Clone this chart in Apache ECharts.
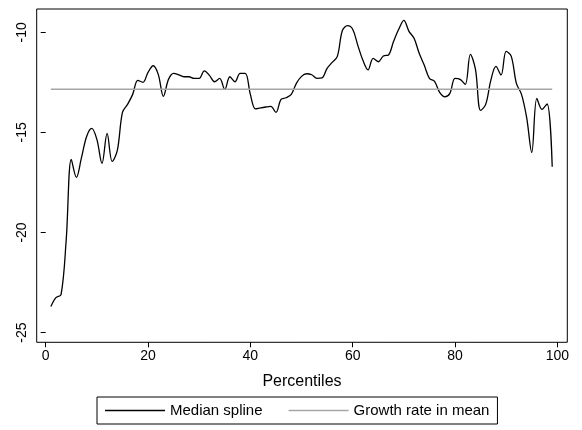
<!DOCTYPE html>
<html>
<head>
<meta charset="utf-8">
<script src="https://cdn.jsdelivr.net/npm/echarts@6/dist/echarts.min.js"></script>
<style>
  html, body { margin: 0; padding: 0; background: #fff; }
  #chart { width: 582px; height: 430px; }
</style>
</head>
<body>
<div id="chart"></div>
<script>
// percentiles 1..99
const percentiles = [];
for (let p = 1; p <= 99; p++) percentiles.push(p);

// median spline
const medianSpline = [
  -23.7, -23.25, -23.1, -20.4, -16.35, -17.25, -16.25, -15.2, -14.8, -15.35,
  -16.55, -15.05, -16.45, -15.9, -14.0, -13.6, -13.1, -12.4, -12.5, -12.0,
  -11.67, -12.1, -13.2, -12.35, -12.05, -12.12, -12.22, -12.22, -12.3, -12.3,
  -11.93, -12.15, -12.47, -12.3, -12.85, -12.22, -12.47, -12.05, -12.05, -13.1,
  -13.82, -13.77, -13.73, -13.7, -14.0, -13.35, -13.27, -13.1, -12.55, -12.2,
  -12.07, -12.12, -12.3, -12.28, -11.8, -11.5, -11.2, -9.9, -9.67, -9.85,
  -10.65, -11.4, -11.88, -11.3, -11.47, -11.18, -11.13, -10.45, -9.85, -9.4,
  -9.95, -10.3, -11.05, -11.65, -12.3, -12.45, -13.0, -13.22, -13.05, -12.3,
  -12.35, -12.6, -11.1, -11.85, -13.9, -13.6, -12.4, -11.7, -12.13, -10.95,
  -11.2, -12.55, -13.1, -14.25, -16.0, -13.3, -13.85, -13.58, -16.72
];

// growth rate in mean (flat)
const growthRateInMean = -12.85;
const growthStart = 1;
const growthEnd = 99;

const xTicks = [0, 20, 40, 60, 80, 100];
const yTicks = [-25, -20, -15, -10];

const chart = echarts.init(document.getElementById('chart'));

const font = 'Liberation Sans, Arial, sans-serif';

chart.setOption({
  animation: false,
  backgroundColor: '#fff',
  grid: {
    left: 36.7,
    right: 14.7,
    top: 9,
    bottom: 87.7,
    show: true,
    borderColor: '#000',
    borderWidth: 1,
    containLabel: false
  },
  legend: {
    left: 97,
    top: 397,
    orient: 'horizontal',
    borderColor: '#000',
    borderWidth: 1,
    padding: [5, 8, 5, 8],
    icon: 'rect',
    itemWidth: 60,
    itemHeight: 1.4,
    itemGap: 26,
    textStyle: { fontFamily: font, fontSize: 15, color: '#000', lineHeight: 17 },
    data: ['Median spline', 'Growth rate in mean']
  },
  xAxis: {
    type: 'value',
    min: -1.76,
    max: 101.95,
    name: 'Percentiles',
    nameLocation: 'middle',
    nameGap: 31,
    nameTextStyle: { fontFamily: font, fontSize: 16, color: '#000' },
    axisLine: { show: false },
    splitLine: { show: false },
    axisTick: {
      show: true,
      inside: false,
      length: 5,
      customValues: xTicks,
      lineStyle: { color: '#000' }
    },
    axisLabel: {
      customValues: xTicks,
      margin: 7,
      fontFamily: font,
      fontSize: 14,
      color: '#000'
    }
  },
  yAxis: {
    type: 'value',
    min: -25.485,
    max: -8.835,
    axisLine: { show: false },
    splitLine: { show: false },
    axisTick: {
      show: true,
      inside: false,
      length: 5,
      customValues: yTicks,
      lineStyle: { color: '#000' }
    },
    axisLabel: {
      customValues: yTicks,
      rotate: 90,
      margin: 8,
      fontFamily: font,
      fontSize: 14,
      color: '#000'
    }
  },
  series: [
    {
      name: 'Median spline',
      type: 'line',
      data: percentiles.map((p, i) => [p, medianSpline[i]]),
      smooth: 0.35,
      symbol: 'none',
      lineStyle: { color: '#000', width: 1.3 },
      itemStyle: { color: '#000' }
    },
    {
      name: 'Growth rate in mean',
      type: 'line',
      data: [[growthStart, growthRateInMean], [growthEnd, growthRateInMean]],
      symbol: 'none',
      lineStyle: { color: '#a6a6a6', width: 1.5 },
      itemStyle: { color: '#a6a6a6' }
    }
  ]
});
</script>
</body>
</html>
